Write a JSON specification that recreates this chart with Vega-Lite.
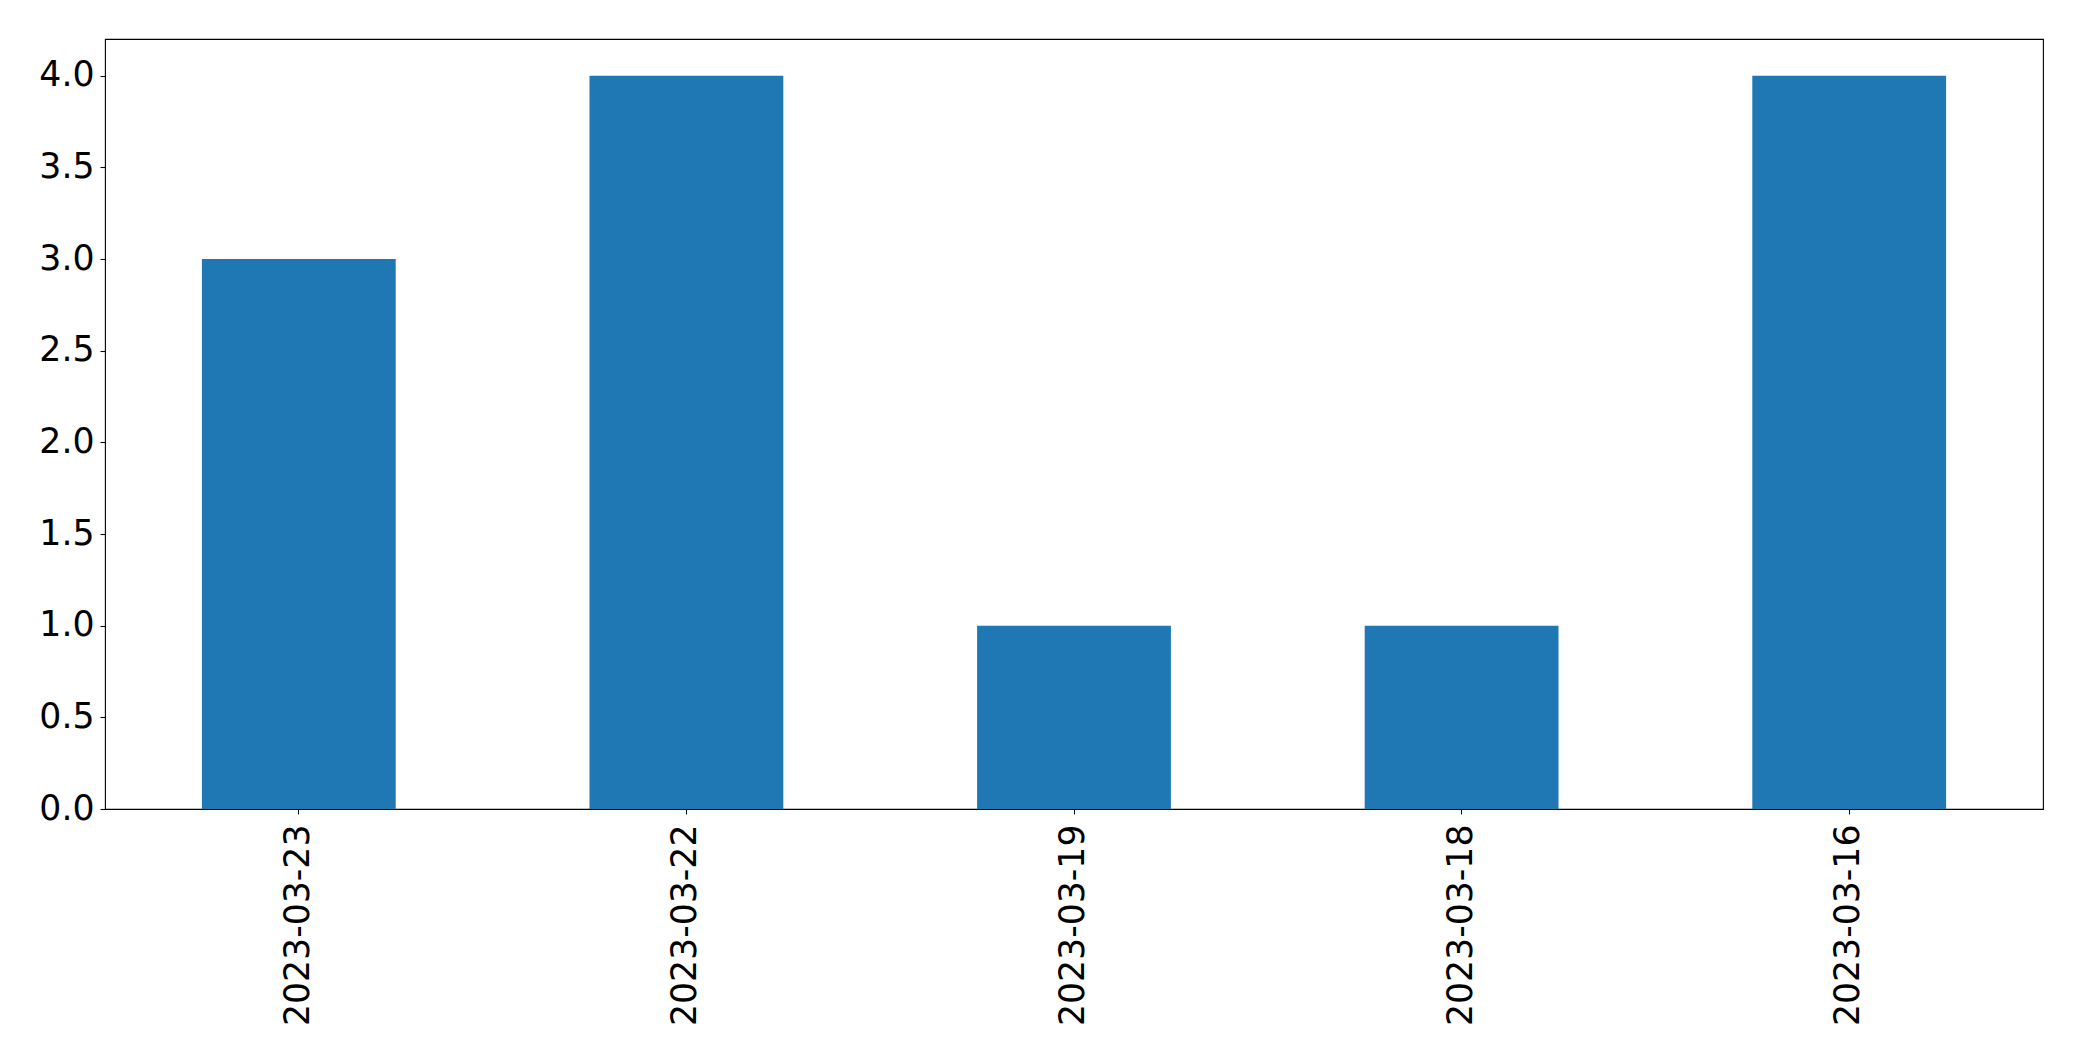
{
  "$schema": "https://vega.github.io/schema/vega-lite/v6.json",
  "autosize": {"type": "none"},
  "padding": {"left": 105, "top": 39, "right": 39, "bottom": 252},
  "width": 1938,
  "height": 770,
  "background": "white",
  "data": {"values": [
    {"date": "2023-03-23", "count": 3},
    {"date": "2023-03-22", "count": 4},
    {"date": "2023-03-19", "count": 1},
    {"date": "2023-03-18", "count": 1},
    {"date": "2023-03-16", "count": 4}
  ]},
  "mark": {"type": "bar", "color": "#1f77b4"},
  "encoding": {
    "x": {
      "field": "date", "type": "nominal", "sort": null,
      "scale": {"paddingInner": 0.5, "paddingOuter": 0.25},
      "axis": {"title": null, "labelAngle": -90, "labelFont": "DejaVu Sans", "labelFontSize": 34.7, "labelColor": "black", "labelLimit": 0,
               "tickColor": "black", "tickSize": 5, "tickWidth": 1.1, "labelPadding": 10, "domain": false, "grid": false}
    },
    "y": {
      "field": "count", "type": "quantitative",
      "scale": {"domain": [0, 4.2], "nice": false, "zero": true},
      "axis": {"title": null, "values": [0, 0.5, 1, 1.5, 2, 2.5, 3, 3.5, 4], "format": ".1f",
               "labelFont": "DejaVu Sans", "labelFontSize": 34.7, "labelColor": "black",
               "tickColor": "black", "tickSize": 5, "tickWidth": 1.1, "labelPadding": 6, "domain": false, "grid": false}
    }
  },
  "config": {"view": {"stroke": "black", "strokeWidth": 1.1}}
}
